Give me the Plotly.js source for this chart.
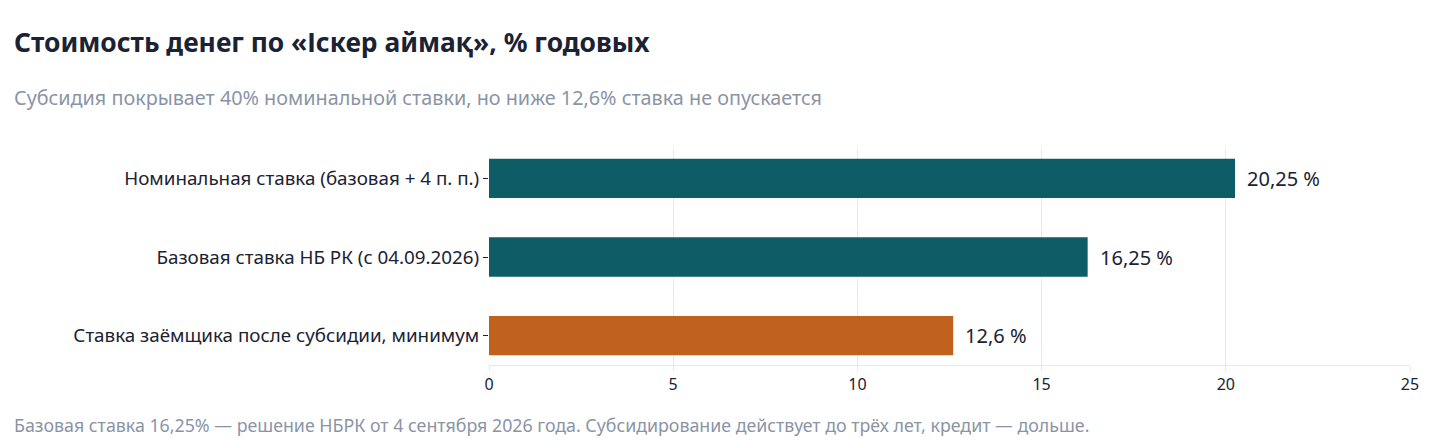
<!DOCTYPE html>
<html><head><meta charset="utf-8">
<script src="https://cdn.plot.ly/plotly-3.0.1.min.js"></script>
<style>html,body{margin:0;padding:0;background:#fff}#chart{width:1438px;height:440px}</style>
</head><body><div id="chart"></div>
<script>
const categories = ["Номинальная ставка (базовая + 4 п. п.)", "Базовая ставка НБ РК (с 04.09.2026)", "Ставка заёмщика после субсидии, минимум"];
const values = [20.25, 16.25, 12.6];
const valueLabels = ["20,25 %", "16,25 %", "12,6 %"];
const barColors = ["#0d5c66", "#0d5c66", "#c0621d"];
const xTicks = [0, 5, 10, 15, 20, 25];

const FONT = "Noto Sans, sans-serif";
const PW = 1438 - 489 - 28;
const LX = (12 - 489) / PW;

const annotations = [
  {text: "<b>Стоимость денег по «Іскер аймақ», % годовых</b>", xref: "paper", yref: "paper",
   x: LX, y: 1, xanchor: "left", yanchor: "bottom", yshift: 87, showarrow: false,
   font: {family: FONT, size: 26.4, color: "#1a2233"}},
  {text: "Субсидия покрывает 40% номинальной ставки, но ниже 12,6% ставка не опускается", xref: "paper", yref: "paper",
   x: LX, y: 1, xanchor: "left", yanchor: "bottom", yshift: 36, showarrow: false,
   font: {family: FONT, size: 19.8, color: "#8a94a6"}},
  {text: "Базовая ставка 16,25% — решение НБРК от 4 сентября 2026 года. Субсидирование действует до трёх лет, кредит — дольше.", xref: "paper", yref: "paper",
   x: LX, y: 0, xanchor: "left", yanchor: "top", yshift: -46, showarrow: false,
   font: {family: FONT, size: 17.8, color: "#8a94a6"}}
];
values.forEach((v, i) => annotations.push({
  text: valueLabels[i], x: v, y: categories[i], xref: "x", yref: "y",
  xanchor: "left", yanchor: "middle", xshift: 10, showarrow: false,
  font: {family: FONT, size: 20, color: "#1a2233"}
}));

Plotly.newPlot("chart", [{
  type: "bar", orientation: "h",
  x: values, y: categories,
  marker: {color: barColors},
  width: 0.5,
  hoverinfo: "none"
}], {
  width: 1438, height: 440,
  margin: {l: 489, r: 28, t: 149, b: 75},
  paper_bgcolor: "#fff", plot_bgcolor: "#fff",
  font: {family: FONT, color: "#1a2233"},
  showlegend: false,
  xaxis: {range: [0, 25], tickvals: xTicks, ticktext: xTicks.map(String),
    showgrid: true, gridcolor: "#e6e8ec", gridwidth: 1, zeroline: false,
    showline: true, linecolor: "#e6e8ec", ticks: "outside", ticklen: 5, tickcolor: "#e6e8ec",
    tickfont: {family: FONT, size: 16, color: "#1a2233"}, fixedrange: true},
  yaxis: {categoryorder: "array", categoryarray: categories, range: [2.375, -0.375],
    showgrid: false, zeroline: false, showline: false, ticks: "outside", ticklen: 5, tickcolor: "#1a2233",
    tickfont: {family: FONT, size: 18.8, color: "#1a2233"}, fixedrange: true},
  annotations: annotations
}, {displayModeBar: false, staticPlot: true});
</script></body></html>
